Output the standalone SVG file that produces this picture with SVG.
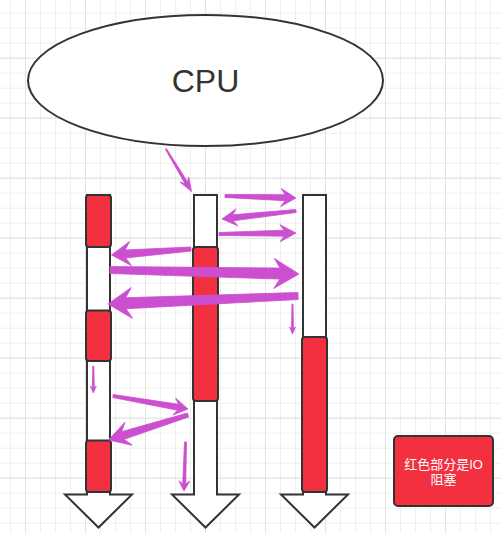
<svg xmlns="http://www.w3.org/2000/svg" width="501" height="533" viewBox="0 0 501 533">
<style>
.shaft{fill:#ffffff;stroke:#333333;stroke-width:2;stroke-linejoin:miter}
.io{fill:#F23040;stroke:#333333;stroke-width:2}
.arr{fill:#CB4FCF;stroke:#CB4FCF;stroke-width:0.8;stroke-linejoin:round}
.cpu-text{font-family:"Liberation Sans",Arial,sans-serif;font-size:32px;fill:#333333}
.legend-text{font-family:"Liberation Sans","Noto Sans CJK SC",sans-serif;font-size:13px;fill:#ffffff}
</style>
<defs>
<pattern id="gridMinor" patternUnits="userSpaceOnUse" x="10" y="12.7" width="15" height="15">
<path d="M0.5 0 V15 M0 0.5 H15" stroke="#efefef" stroke-width="1" fill="none"/>
</pattern>
<pattern id="gridMajor" patternUnits="userSpaceOnUse" x="25" y="57.7" width="60" height="60">
<path d="M0.5 0 V60 M0 0.5 H60" stroke="#e2e2e2" stroke-width="1" fill="none"/>
</pattern>
</defs>
<rect x="0" y="0" width="501" height="533" fill="#ffffff"/>
<rect x="0" y="0" width="501" height="533" fill="url(#gridMinor)"/>
<rect x="0" y="0" width="501" height="533" fill="url(#gridMajor)"/>

<g id="cpu">
<ellipse cx="205.5" cy="80.5" rx="177.5" ry="65.5" fill="#ffffff" stroke="#333333" stroke-width="2"/>
<text class="cpu-text" x="205.5" y="92" text-anchor="middle">CPU</text>
</g>

<g id="col-left">
<path class="shaft" d="M87 195 V494.5 H65 L98.5 527.5 L132 494.5 H110 V195 Z"/>
<rect class="io" x="86" y="195" width="25" height="52" rx="3"/>
<rect class="io" x="86" y="310.5" width="25" height="50.5" rx="3"/>
<rect class="io" x="86" y="440.5" width="25" height="51.5" rx="3"/>
</g>

<g id="col-mid">
<path class="shaft" d="M194 195 V494.5 H172 L205.5 527.5 L239 494.5 H217 V195 Z"/>
<rect class="io" x="193" y="247" width="25" height="154" rx="3"/>
</g>

<g id="col-right">
<path class="shaft" d="M303 195 V494.5 H281 L314.5 527.5 L348 494.5 H326 V195 Z"/>
<rect class="io" x="302" y="337" width="25" height="155" rx="3"/>
</g>

<g id="legend">
<rect class="io" x="394" y="436" width="99" height="70" rx="4"/>
<text class="legend-text" x="443.5" y="469" text-anchor="middle">红色部分是IO</text>
<text class="legend-text" x="443.5" y="484" text-anchor="middle">阻塞</text>
</g>

<g id="connectors">
<polygon class="arr" transform="translate(166,149) rotate(59.04)" points="0,-0.6 39.6,-1.5 35.6,-5 49.6,0 35.6,5 39.6,1.5 0,0.6"/>
<polygon class="arr" transform="translate(225,196) rotate(1.61)" points="0,-1.5 60,-3 56,-9 71,0 56,9 60,3 0,1.5"/>
<polygon class="arr" transform="translate(296,211) rotate(173.83)" points="0,-1.5 63.4,-3 59.4,-8.5 74.4,0 59.4,8.5 63.4,3 0,1.5"/>
<polygon class="arr" transform="translate(219,234) rotate(-0.74)" points="0,-1.5 65,-3 61,-8.5 77,0 61,8.5 65,3 0,1.5"/>
<polygon class="arr" transform="translate(191,249) rotate(175.68)" points="0,-2 65.7,-4 60.7,-12 79.7,0 60.7,12 65.7,4 0,2"/>
<polygon class="arr" transform="translate(110,270) rotate(1.21)" points="0,-3.5 170,-5.5 164,-15 189,0 164,15 170,5.5 0,3.5"/>
<polygon class="arr" transform="translate(298,296) rotate(177.59)" points="0,-3.5 172.2,-5.5 166.2,-15.5 190.2,0 166.2,15.5 172.2,5.5 0,3.5"/>
<polygon class="arr" transform="translate(292.5,304) rotate(90)" points="0,-0.5 25,-1 23,-3 30,0 23,3 25,1 0,0.5"/>
<polygon class="arr" transform="translate(93.3,366) rotate(90)" points="0,-0.5 22,-1 20,-3 27,0 20,3 22,1 0,0.5"/>
<polygon class="arr" transform="translate(113,396) rotate(9.83)" points="0,-1.5 66.1,-3 62.1,-8.5 76.1,0 62.1,8.5 66.1,3 0,1.5"/>
<polygon class="arr" transform="translate(188,415) rotate(162.54)" points="0,-2 68.3,-4 62.3,-12 83.3,0 62.3,12 68.3,4 0,2"/>
<polygon class="arr" transform="translate(185.5,442) rotate(91.75)" points="0,-1 42,-1.5 39,-5.5 49,0 39,5.5 42,1.5 0,1"/>
</g>
</svg>
